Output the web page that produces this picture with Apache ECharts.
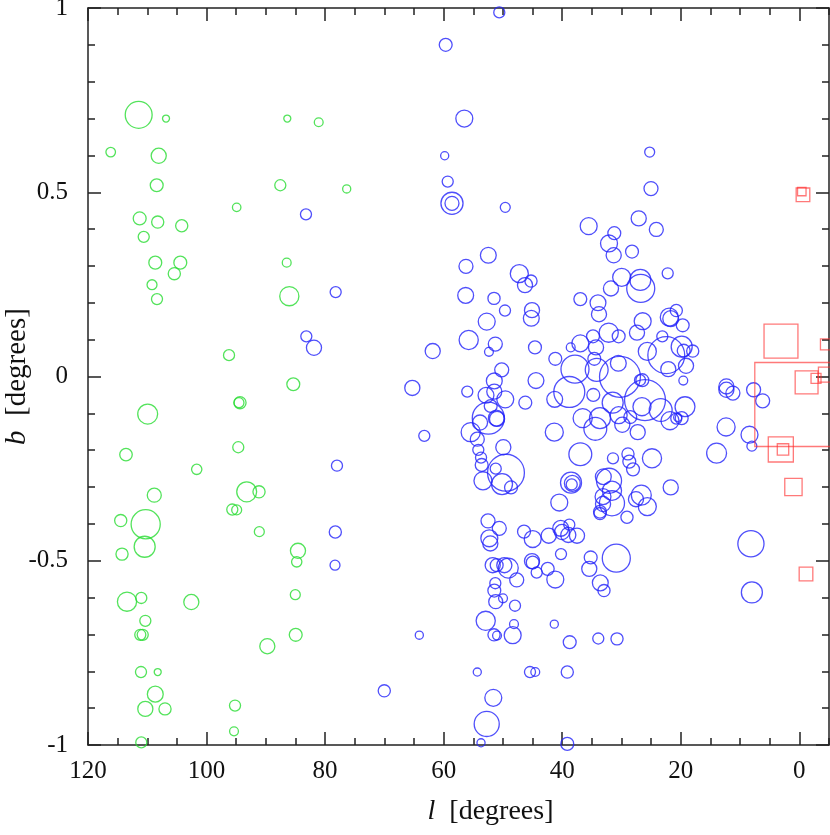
<!DOCTYPE html>
<html>
<head>
<meta charset="utf-8">
<script src="https://cdn.jsdelivr.net/npm/echarts@6/dist/echarts.min.js"></script>
<style>
  html, body { margin: 0; padding: 0; background: #fff; }
  #myChart { width: 830px; height: 835px; }
</style>
</head>
<body>
<div id="myChart"></div>
<script>
// each clump: [l (deg), b (deg), angular diameter (deg)]
var greenClumps = [
  [111.45,0.710,0.073],[106.84,0.700,0.019],[116.17,0.609,0.026],[108.07,0.599,0.041],
  [108.41,0.519,0.035],[86.38,0.700,0.019],[81.08,0.690,0.024],[87.56,0.519,0.030],
  [94.92,0.459,0.023],[111.28,0.429,0.035],[108.24,0.419,0.033],[104.19,0.409,0.033],
  [110.60,0.379,0.030],[108.65,0.309,0.035],[104.43,0.309,0.035],[105.44,0.279,0.033],
  [109.20,0.249,0.027],[108.36,0.210,0.030],[86.48,0.309,0.024],[86.04,0.218,0.052],
  [76.36,0.509,0.022],[96.21,0.058,0.030],[85.37,-0.021,0.035],[109.93,-0.102,0.054],
  [94.36,-0.071,0.033],[94.53,-0.071,0.027],[113.59,-0.212,0.034],[94.65,-0.192,0.030],
  [101.66,-0.252,0.028],[108.82,-0.322,0.038],[93.23,-0.313,0.054],[91.15,-0.313,0.033],
  [110.27,-0.401,0.079],[114.48,-0.391,0.033],[95.66,-0.361,0.030],[94.92,-0.362,0.027],
  [91.10,-0.421,0.027],[110.44,-0.462,0.057],[114.26,-0.482,0.033],[84.58,-0.473,0.041],
  [84.79,-0.503,0.028],[113.42,-0.611,0.052],[111.01,-0.601,0.030],[102.57,-0.612,0.041],
  [85.03,-0.592,0.027],[110.33,-0.663,0.030],[111.18,-0.701,0.030],[110.77,-0.701,0.030],
  [84.96,-0.701,0.035],[89.75,-0.732,0.041],[111.06,-0.802,0.030],[108.24,-0.802,0.019],
  [108.65,-0.862,0.043],[110.33,-0.902,0.041],[107.01,-0.902,0.033],[95.20,-0.893,0.030],
  [95.37,-0.963,0.024],[111.01,-0.993,0.030]
];

var blueClumps = [
  [50.62,0.988,0.030],[59.66,0.900,0.035],[56.52,0.700,0.046],[59.83,0.599,0.022],
  [59.32,0.529,0.030],[58.60,0.470,0.060],[58.60,0.470,0.038],[49.61,0.459,0.027],
  [83.23,0.440,0.030],[78.22,0.229,0.030],[52.47,0.329,0.043],[56.24,0.299,0.038],
  [47.24,0.279,0.049],[46.28,0.248,0.041],[45.27,0.259,0.033],[56.29,0.220,0.043],
  [51.51,0.212,0.033],[83.17,0.109,0.030],[81.88,0.078,0.041],[61.85,0.069,0.041],
  [65.29,-0.031,0.041],[63.27,-0.161,0.030],[78.00,-0.242,0.030],[78.28,-0.422,0.033],
  [78.33,-0.512,0.027],[64.11,-0.702,0.022],[70.02,-0.853,0.033],[25.25,0.609,0.027],
  [25.03,0.510,0.038],[35.54,0.408,0.046],[27.10,0.429,0.041],[24.13,0.399,0.038],
  [31.22,0.389,0.035],[32.11,0.361,0.046],[31.32,0.329,0.041],[28.23,0.339,0.035],
  [49.66,0.179,0.030],[45.10,0.180,0.041],[45.22,0.158,0.043],[52.74,0.149,0.046],
  [36.95,0.210,0.035],[33.97,0.200,0.043],[33.80,0.169,0.041],[31.78,0.239,0.041],
  [29.97,0.269,0.049],[26.83,0.262,0.057],[26.76,0.239,0.076],[22.21,0.280,0.030],
  [26.43,0.150,0.046],[27.39,0.119,0.041],[21.94,0.161,0.049],[21.70,0.157,0.043],
  [20.76,0.179,0.033],[19.68,0.139,0.035],[23.12,0.109,0.030],[55.78,0.099,0.052],
  [51.29,0.088,0.038],[52.36,0.067,0.024],[44.60,0.079,0.035],[38.57,0.079,0.024],
  [36.95,0.090,0.046],[34.81,0.109,0.035],[34.30,0.079,0.041],[32.16,0.119,0.052],
  [30.48,0.109,0.035],[25.65,0.068,0.049],[22.45,0.058,0.100],[19.85,0.081,0.057],
  [19.51,0.070,0.035],[17.99,0.069,0.033],[19.12,0.029,0.041],[22.11,0.020,0.041],
  [19.58,-0.011,0.024],[41.17,0.048,0.035],[34.59,0.048,0.035],[37.85,0.020,0.076],
  [34.19,0.018,0.062],[30.54,0.036,0.043],[30.26,-0.001,0.111],[26.49,-0.010,0.035],
  [26.88,-0.010,0.030],[26.04,-0.064,0.111],[38.81,-0.042,0.084],[34.76,-0.050,0.035],
  [31.49,-0.071,0.057],[41.27,-0.062,0.043],[44.43,-0.011,0.043],[50.21,0.018,0.038],
  [51.46,-0.012,0.043],[51.46,-0.041,0.041],[52.86,-0.051,0.043],[49.61,-0.062,0.046],
  [56.02,-0.041,0.030],[46.23,-0.071,0.035],[52.47,-0.113,0.087],[51.12,-0.113,0.043],
  [51.00,-0.115,0.041],[52.07,-0.080,0.035],[55.44,-0.151,0.052],[53.87,-0.125,0.041],
  [54.33,-0.170,0.038],[54.16,-0.199,0.030],[53.70,-0.220,0.030],[49.94,-0.192,0.041],
  [53.59,-0.240,0.035],[51.22,-0.250,0.030],[49.49,-0.261,0.100],[53.37,-0.283,0.049],
  [50.16,-0.292,0.057],[48.64,-0.301,0.035],[41.34,-0.151,0.049],[36.95,-0.211,0.062],
  [36.55,-0.113,0.052],[34.42,-0.142,0.062],[33.63,-0.113,0.057],[30.48,-0.105,0.046],
  [29.87,-0.131,0.041],[28.52,-0.110,0.035],[27.27,-0.151,0.041],[26.55,-0.082,0.049],
  [23.39,-0.091,0.062],[21.82,-0.120,0.049],[20.76,-0.114,0.030],[20.52,-0.111,0.022],
  [19.29,-0.082,0.054],[19.85,-0.113,0.035],[31.44,-0.222,0.030],[28.91,-0.210,0.033],
  [28.69,-0.231,0.035],[28.06,-0.252,0.035],[24.86,-0.222,0.052],[33.07,-0.272,0.043],
  [32.11,-0.283,0.068],[31.61,-0.310,0.052],[31.61,-0.344,0.068],[33.12,-0.326,0.043],
  [33.12,-0.346,0.041],[33.63,-0.367,0.035],[33.63,-0.372,0.033],[29.08,-0.382,0.033],
  [27.56,-0.333,0.041],[26.66,-0.322,0.054],[25.65,-0.353,0.049],[21.70,-0.301,0.041],
  [38.52,-0.288,0.057],[38.30,-0.290,0.043],[38.40,-0.293,0.030],[40.50,-0.342,0.046],
  [52.52,-0.392,0.038],[50.62,-0.412,0.038],[52.30,-0.439,0.046],[52.13,-0.453,0.041],
  [46.45,-0.421,0.035],[44.98,-0.441,0.046],[42.28,-0.432,0.041],[40.26,-0.412,0.043],
  [38.81,-0.402,0.030],[40.04,-0.422,0.041],[38.98,-0.430,0.041],[37.51,-0.432,0.041],
  [40.21,-0.482,0.030],[35.20,-0.491,0.035],[35.44,-0.522,0.041],[30.88,-0.493,0.076],
  [33.58,-0.560,0.043],[32.96,-0.581,0.033],[51.73,-0.512,0.041],[51.06,-0.512,0.035],
  [49.77,-0.512,0.041],[49.10,-0.520,0.054],[47.68,-0.552,0.038],[45.10,-0.501,0.041],
  [44.98,-0.505,0.035],[44.31,-0.532,0.030],[42.45,-0.522,0.035],[41.17,-0.551,0.046],
  [51.29,-0.561,0.030],[51.46,-0.581,0.035],[51.22,-0.611,0.038],[49.99,-0.602,0.024],
  [47.97,-0.622,0.030],[52.91,-0.663,0.052],[48.14,-0.672,0.024],[51.51,-0.701,0.033],
  [51.00,-0.703,0.024],[48.36,-0.702,0.046],[41.34,-0.672,0.022],[38.74,-0.721,0.035],
  [33.92,-0.711,0.030],[30.76,-0.712,0.033],[54.33,-0.802,0.022],[45.44,-0.802,0.030],
  [44.55,-0.802,0.024],[39.15,-0.802,0.033],[51.63,-0.872,0.046],[52.74,-0.943,0.068],
  [53.70,-0.994,0.022],[39.15,-0.997,0.035],[12.31,-0.027,0.041],[12.31,-0.036,0.041],
  [11.21,-0.045,0.038],[7.72,-0.036,0.038],[6.19,-0.066,0.038],[12.36,-0.137,0.049],
  [8.41,-0.158,0.046],[8.01,-0.189,0.027],[13.96,-0.208,0.054],[8.17,-0.454,0.071],
  [8.01,-0.586,0.057]
];

var redClumps = [
  [3.10,0.096,0.092],[-4.49,0.087,0.030],[0.43,-0.076,0.228],[-1.22,-0.016,0.062],
  [-2.81,-0.005,0.027],[-4.49,0.005,0.041],[3.13,-0.198,0.068],[2.76,-0.198,0.031],
  [1.00,-0.300,0.047],[-1.12,-0.536,0.037],[-0.61,0.493,0.037],[-0.41,0.502,0.023]
];

var lRange = [-5, 120];
var bRange = [-1, 1];
var lMajorTicks = [0, 20, 40, 60, 80, 100, 120];

var grid = { left: 88, right: 1, top: 8, bottom: 90, outerBoundsMode: 'none', containLabel: false };
var pxPerDeg = (835 - grid.top - grid.bottom) / (bRange[1] - bRange[0]);

var axisColor = '#222';
var serif = 'Liberation Serif';

function sizeOf(v) { return v[2] * pxPerDeg; }

function xAxisCfg(pos, major, withLabels) {
  var cfg = {
    type: 'value',
    position: pos,
    min: lRange[0],
    max: lRange[1],
    inverse: true,
    splitLine: { show: false },
    axisLine: { show: !major, onZero: false, lineStyle: { color: axisColor, width: 1.5 } },
    axisTick: { inside: true, length: major ? 13 : 7, lineStyle: { color: axisColor, width: 1.5 } },
    axisLabel: { show: false }
  };
  if (major) {
    cfg.axisTick.customValues = lMajorTicks;
  } else {
    cfg.interval = 5;
  }
  if (withLabels) {
    cfg.axisLabel = {
      show: true,
      margin: 14,
      fontFamily: serif,
      fontSize: 25,
      color: '#111',
      formatter: function (v) { return v % 20 === 0 ? String(v) : ''; }
    };
    cfg.name = '{i|l}  [degrees]';
    cfg.nameLocation = 'middle';
    cfg.nameGap = 53;
    cfg.nameTextStyle = {
      fontFamily: serif, fontSize: 28, color: '#111',
      padding: [0, 0, 0, 64],
      rich: { i: { fontFamily: serif, fontSize: 28, fontStyle: 'italic', color: '#111' } }
    };
  }
  return cfg;
}

function yAxisCfg(pos, withLabels) {
  var cfg = {
    type: 'value',
    position: pos,
    min: bRange[0],
    max: bRange[1],
    interval: 0.5,
    splitLine: { show: false },
    axisLine: { show: true, onZero: false, lineStyle: { color: axisColor, width: 1.5 } },
    axisTick: { inside: true, length: 13, lineStyle: { color: axisColor, width: 1.5 } },
    minorTick: { show: true, splitNumber: 5, length: 7, lineStyle: { color: axisColor, width: 1.5 } },
    axisLabel: { show: false }
  };
  if (withLabels) {
    cfg.axisLabel = { show: true, margin: 20, fontFamily: serif, fontSize: 25, color: '#111' };
    cfg.name = '{i|b}  [degrees]';
    cfg.nameLocation = 'middle';
    cfg.nameRotate = 90;
    cfg.nameGap = 56;
    cfg.nameMoveOverlap = false;
    cfg.nameTextStyle = {
      fontFamily: serif, fontSize: 29, color: '#111',
      rich: { i: { fontFamily: serif, fontSize: 29, fontStyle: 'italic', color: '#111' } }
    };
  }
  return cfg;
}

function clumpSeries(name, data, symbol, color) {
  return {
    name: name,
    type: 'scatter',
    xAxisIndex: 0,
    yAxisIndex: 0,
    symbol: symbol,
    symbolSize: sizeOf,
    data: data,
    silent: true,
    itemStyle: { color: 'rgba(0,0,0,0)', borderColor: color, borderWidth: 1.3 },
    emphasis: { disabled: true }
  };
}

var myChart = echarts.init(document.getElementById('myChart'), null, { renderer: 'canvas' });
myChart.setOption({
  animation: false,
  backgroundColor: '#fff',
  grid: grid,
  xAxis: [
    xAxisCfg('bottom', false, true),
    xAxisCfg('bottom', true, false),
    xAxisCfg('top', false, false),
    xAxisCfg('top', true, false)
  ],
  yAxis: [
    yAxisCfg('left', true),
    yAxisCfg('right', false)
  ],
  series: [
    clumpSeries('green', greenClumps, 'circle', 'rgb(40,220,50)'),
    clumpSeries('blue', blueClumps, 'circle', 'rgb(35,35,250)'),
    clumpSeries('red', redClumps, 'rect', 'rgba(255,45,45,0.8)')
  ]
});
</script>
</body>
</html>
